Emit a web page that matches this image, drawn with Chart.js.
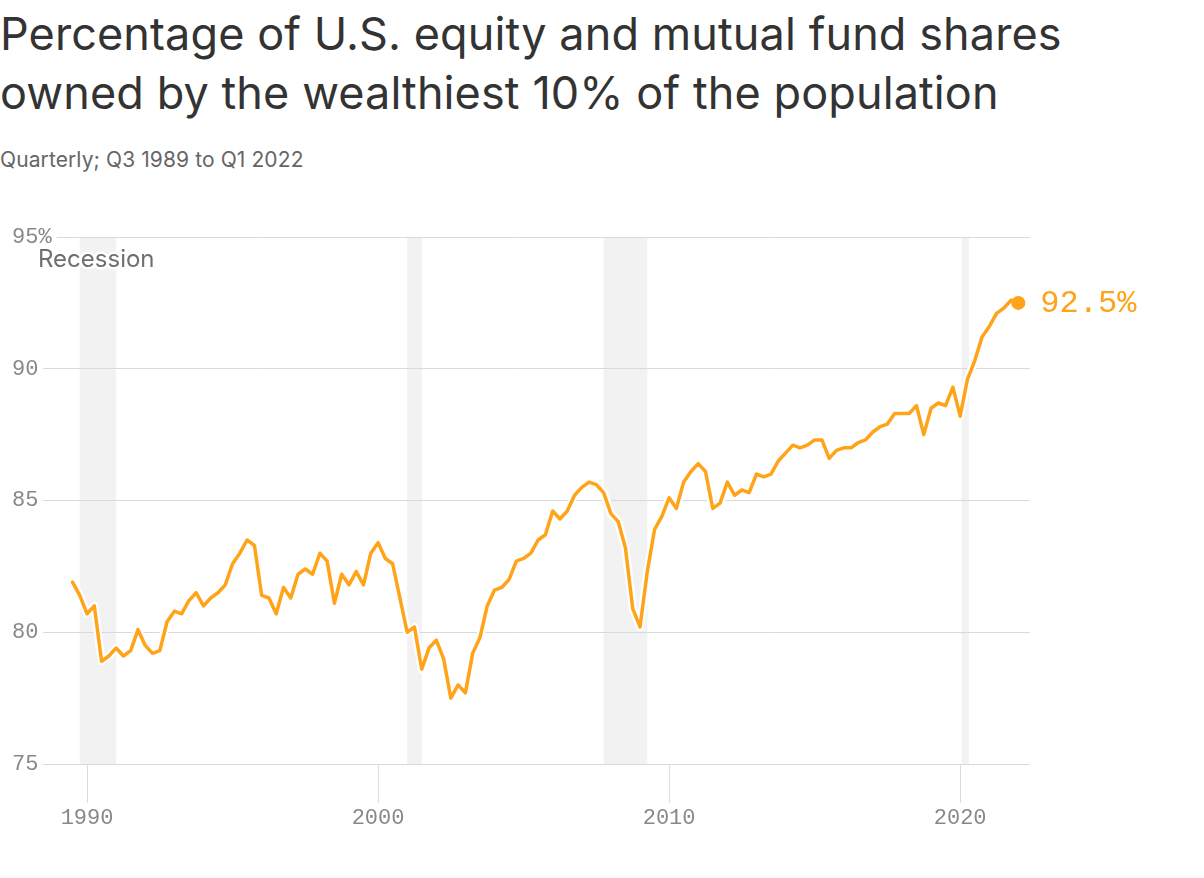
<!DOCTYPE html>
<html lang="en">
<head>
    <meta charset="UTF-8">
    <title>Wealthiest 10% share of U.S. equity and mutual funds</title>
    <style>
        body {
            margin: 0;
            width: 1204px;
            height: 878px;
            overflow: hidden;
            background: #fff;
            font-family: Inter, "Noto Sans", sans-serif;
        }
        h1 {
            position: absolute;
            left: 0;
            top: 4px;
            margin: 0;
            font-size: 45px;
            font-weight: 400;
            line-height: 59px;
            color: #333;
            letter-spacing: 0.1px;
        }
        .subtitle {
            position: absolute;
            left: 0;
            top: 147px;
            font-size: 21px;
            color: #666;
            letter-spacing: 0.1px;
        }
        .chart-box {
            position: absolute;
            left: 0;
            top: 190px;
            width: 1204px;
            height: 688px;
        }
    </style>
</head>
<body>
    <h1>Percentage of U.S. equity and mutual fund shares<br>owned by the wealthiest 10% of the population</h1>
    <div class="subtitle">Quarterly; Q3 1989 to Q1 2022</div>
    <div class="chart-box"><canvas id="shareChart"></canvas></div>

    <script src="https://cdn.jsdelivr.net/npm/chart.js"></script>
    <script>
        // Quarterly series, first value is Q3 1989
        const startYear = 1989;
        const startQuarter = 3;
        const shares = [
            81.9, 81.4,
            80.7, 81.0, 78.9, 79.1,
            79.4, 79.1, 79.3, 80.1,
            79.5, 79.2, 79.3, 80.4,
            80.8, 80.7, 81.2, 81.5,
            81.0, 81.3, 81.5, 81.8,
            82.6, 83.0, 83.5, 83.3,
            81.4, 81.3, 80.7, 81.7,
            81.3, 82.2, 82.4, 82.2,
            83.0, 82.7, 81.1, 82.2,
            81.8, 82.3, 81.8, 83.0,
            83.4, 82.8, 82.6, 81.3,
            80.0, 80.2, 78.6, 79.4,
            79.7, 79.0, 77.5, 78.0,
            77.7, 79.2, 79.8, 81.0,
            81.6, 81.7, 82.0, 82.7,
            82.8, 83.0, 83.5, 83.7,
            84.6, 84.3, 84.6, 85.2,
            85.5, 85.7, 85.6, 85.3,
            84.5, 84.2, 83.2, 80.9,
            80.2, 82.3, 83.9, 84.4,
            85.1, 84.7, 85.7, 86.1,
            86.4, 86.1, 84.7, 84.9,
            85.7, 85.2, 85.4, 85.3,
            86.0, 85.9, 86.0, 86.5,
            86.8, 87.1, 87.0, 87.1,
            87.3, 87.3, 86.6, 86.9,
            87.0, 87.0, 87.2, 87.3,
            87.6, 87.8, 87.9, 88.3,
            88.3, 88.3, 88.6, 87.5,
            88.5, 88.7, 88.6, 89.3,
            88.2, 89.6, 90.3, 91.2,
            91.6, 92.1, 92.3, 92.6,
            92.5
        ];
        // Recession periods as shaded in the original
        const recessionStarts = [1989.75, 2001.0, 2007.75, 2020.05];
        const recessionEnds = [1991.0, 2001.5, 2009.25, 2020.3];
        const yearTicks = [1990, 2000, 2010, 2020];
        const shareTicks = [75, 80, 85, 90, 95];

        const ORANGE = '#ffa319';
        const MONO = '"Liberation Mono", "DejaVu Sans Mono", monospace';

        const points = shares.map((v, i) => ({ x: startYear + (startQuarter - 1 + i) / 4, y: v }));
        const lastIndex = points.length - 1;

        // Recession shading, "Recession" note and end value label
        const annotations = {
            id: 'annotations',
            beforeDraw(chart) {
                const { ctx, chartArea, scales } = chart;
                ctx.save();
                ctx.fillStyle = '#f2f2f2';
                recessionStarts.forEach((start, i) => {
                    const x0 = scales.x.getPixelForValue(start);
                    const x1 = scales.x.getPixelForValue(recessionEnds[i]);
                    ctx.fillRect(x0, chartArea.top, x1 - x0, chartArea.bottom - chartArea.top);
                });
                ctx.restore();
            },
            afterDraw(chart) {
                const { ctx, chartArea } = chart;
                ctx.save();
                ctx.font = '24px Inter, "Noto Sans", sans-serif';
                ctx.textBaseline = 'middle';
                ctx.textAlign = 'left';
                ctx.lineJoin = 'round';
                ctx.strokeStyle = '#fff';
                ctx.lineWidth = 5;
                ctx.strokeText('Recession', chartArea.left + 31, chartArea.top + 23);
                ctx.fillStyle = '#6f6f6f';
                ctx.fillText('Recession', chartArea.left + 31, chartArea.top + 23);

                const last = chart.getDatasetMeta(0).data[lastIndex];
                ctx.font = '32px ' + MONO;
                ctx.fillStyle = ORANGE;
                ctx.fillText(shares[lastIndex].toFixed(1) + '%', last.x + 22, last.y + 1);
                ctx.restore();
            }
        };

        new Chart(document.getElementById('shareChart'), {
            type: 'line',
            data: {
                datasets: [
                    {
                        data: points,
                        borderColor: ORANGE,
                        borderWidth: 3.5,
                        borderJoinStyle: 'round',
                        borderCapStyle: 'round',
                        tension: 0,
                        pointRadius: ctx => ctx.dataIndex === lastIndex ? 7 : 0,
                        pointBackgroundColor: ORANGE,
                        pointBorderWidth: 0,
                        order: 1
                    },
                    {
                        // white halo under the line
                        data: points,
                        borderColor: '#fff',
                        borderWidth: 8,
                        borderJoinStyle: 'round',
                        tension: 0,
                        pointRadius: 0,
                        order: 2
                    }
                ]
            },
            options: {
                responsive: true,
                maintainAspectRatio: false,
                animation: false,
                events: [],
                layout: { padding: { top: 47, right: 174, left: 0, bottom: 0 } },
                plugins: {
                    legend: { display: false },
                    tooltip: { enabled: false }
                },
                scales: {
                    x: {
                        type: 'linear',
                        min: 1987.25,
                        max: 2022.4,
                        afterBuildTicks: s => { s.ticks = yearTicks.map(value => ({ value })); },
                        afterFit: s => { s.height = 114; },
                        border: { display: false },
                        grid: {
                            drawOnChartArea: false,
                            drawTicks: true,
                            tickLength: 39,
                            tickColor: '#dcdcdc'
                        },
                        ticks: {
                            font: { family: MONO, size: 22 },
                            color: '#888',
                            padding: 2,
                            maxRotation: 0,
                            callback: v => String(v)
                        }
                    },
                    y: {
                        min: 75,
                        max: 95,
                        afterBuildTicks: s => { s.ticks = shareTicks.map(value => ({ value })); },
                        afterFit: s => { s.width = 7; },
                        border: { display: false },
                        grid: {
                            color: '#d9d9d9',
                            drawTicks: false
                        },
                        ticks: {
                            mirror: true,
                            padding: 5,
                            font: { family: MONO, size: 22 },
                            color: '#888',
                            showLabelBackdrop: true,
                            backdropColor: '#fff',
                            backdropPadding: { x: 5, y: 1 },
                            callback: v => v === 95 ? v + '%' : String(v)
                        }
                    }
                }
            },
            plugins: [annotations]
        });
    </script>
</body>
</html>
